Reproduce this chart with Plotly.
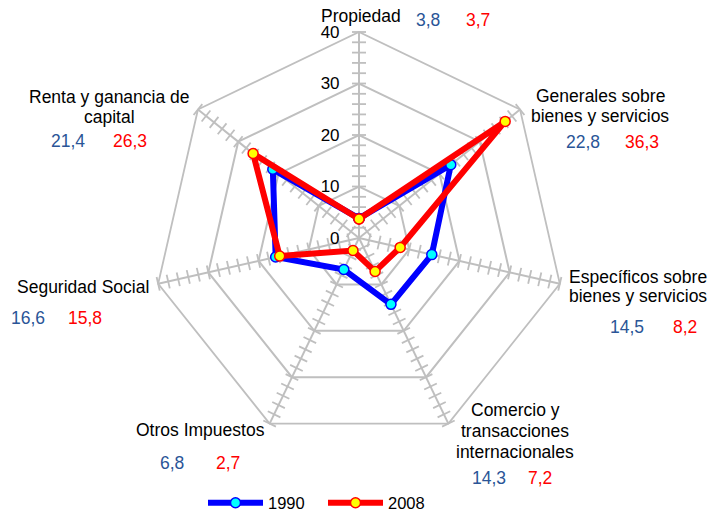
import plotly.graph_objects as go

categories = ["Propiedad", "Generales sobre bienes y servicios", "Específicos sobre bienes y servicios",
              "Comercio y transacciones internacionales", "Otros Impuestos", "Seguridad Social",
              "Renta y ganancia de capital"]
display_labels = ["Propiedad", "Generales sobre<br>bienes y servicios", "Específicos sobre<br>bienes y servicios",
                  "Comercio y<br>transacciones<br>internacionales", "Otros Impuestos", "Seguridad Social",
                  "Renta y ganancia de<br>capital"]
values_1990 = [3.8, 22.8, 14.5, 14.3, 6.8, 16.6, 21.4]
values_2008 = [3.7, 36.3, 8.2, 7.2, 2.7, 15.8, 26.3]
series_names = ["1990", "2008"]
radial_ticks = [0, 10, 20, 30, 40]

# layout positions (pixels): first-line centre of each category label, then value labels
label_pos = [(361, 16), (600, 96), (638, 277), (515, 410), (200, 430), (83, 287), (109, 97)]
line_gap = [20, 19.5, 19, 21, 20, 20, 19.5]
val_pos = [((428, 20), (478, 20)), ((583, 142), (642, 142)), ((627, 327), (685, 327)),
           ((489, 478), (540, 478)), ((172, 463), (228, 463)), ((28, 318), (85, 318)),
           ((68, 141), (130, 141))]

W, H = 715, 512
CX, CY, R = 359, 238, 206
GRAY = "#BFBFBF"
BLUE_TXT = "#2A5597"
FS = 17.5

fig = go.Figure()

# minor tick marks along each spoke
n = len(categories)
minor_r = [v for v in range(2, radial_ticks[-1] + 1, 2)]
for i, cat in enumerate(categories):
    fig.add_trace(go.Scatterpolar(
        r=minor_r, theta=[cat] * len(minor_r), mode="markers",
        marker=dict(symbol="line-ew", size=10, angle=i * 360 / n,
                    line=dict(color=GRAY, width=1.8)),
        showlegend=False, hoverinfo="skip"))

def closed(a):
    return list(a) + [a[0]]

fig.add_trace(go.Scatterpolar(
    r=closed(values_1990), theta=closed(categories), mode="lines+markers", name=series_names[0],
    line=dict(color="#0000FF", width=6),
    marker=dict(size=10, color="#00FFFF", line=dict(color="#0000FF", width=1.5))))
fig.add_trace(go.Scatterpolar(
    r=closed(values_2008), theta=closed(categories), mode="lines+markers", name=series_names[1],
    line=dict(color="#FF0000", width=6),
    marker=dict(size=10, color="#FFFF00", line=dict(color="#FF0000", width=1.5))))

def px_to_paper(x, y):
    return x / W, (H - y) / H

annotations = []
for i in range(n):
    x0, y0 = label_pos[i]
    for k, line in enumerate(display_labels[i].split("<br>")):
        x, y = px_to_paper(x0, y0 + k * line_gap[i])
        annotations.append(dict(x=x, y=y, xref="paper", yref="paper", text=line,
                                xanchor="center", yanchor="middle",
                                showarrow=False, font=dict(size=FS, color="black")))
    (x1, y1), (x2, y2) = val_pos[i]
    a, b = px_to_paper(x1, y1)
    annotations.append(dict(x=a, y=b, xref="paper", yref="paper", xanchor="center", yanchor="middle",
                            text=f"{values_1990[i]:.1f}".replace(".", ","),
                            showarrow=False, font=dict(size=FS, color=BLUE_TXT)))
    a, b = px_to_paper(x2, y2)
    annotations.append(dict(x=a, y=b, xref="paper", yref="paper", xanchor="center", yanchor="middle",
                            text=f"{values_2008[i]:.1f}".replace(".", ","),
                            showarrow=False, font=dict(size=FS, color="#FF0000")))

lx, ly = px_to_paper(323, 503)
fig.update_layout(
    width=W, height=H,
    margin=dict(l=0, r=0, t=0, b=0, autoexpand=False),
    paper_bgcolor="white", plot_bgcolor="white",
    font=dict(family="Liberation Sans, Arial, sans-serif", size=FS, color="black"),
    polar=dict(
        bgcolor="white",
        gridshape="linear",
        domain=dict(x=[(CX - R) / W, (CX + R) / W], y=[(H - CY - R) / H, (H - CY + R) / H]),
        radialaxis=dict(range=[radial_ticks[0], radial_ticks[-1]], tickvals=radial_ticks,
                        angle=90, tickangle=90, side="counterclockwise",
                        showline=False, gridcolor=GRAY, gridwidth=1.8,
                        ticks="outside", ticklen=13, tickcolor="rgba(0,0,0,0)",
                        tickfont=dict(size=17, color="black")),
        angularaxis=dict(rotation=90, direction="clockwise", showticklabels=False,
                         ticks="", showline=True, linecolor=GRAY, linewidth=1.8,
                         gridcolor=GRAY, gridwidth=1.8),
    ),
    legend=dict(orientation="h", x=lx, y=ly, xanchor="center", yanchor="middle",
                font=dict(size=16.5), itemwidth=55, entrywidth=50),
    annotations=annotations,
)

fig.write_html("out.html", config={"displayModeBar": False},
               post_script="document.body.style.margin='0px';")
